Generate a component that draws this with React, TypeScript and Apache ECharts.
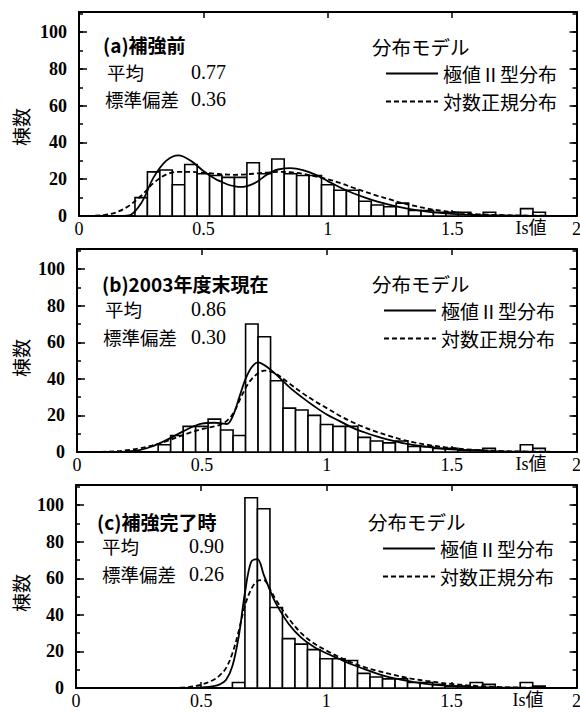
import React, { useEffect, useRef } from "react";
import * as echarts from "echarts";

// ---------------- data ----------------
const BIN_WIDTH = 0.05;
const binCenters = [
  0.25, 0.3, 0.35, 0.4, 0.45, 0.5, 0.55, 0.6, 0.65, 0.7, 0.75, 0.8, 0.85, 0.9, 0.95, 1.0, 1.05,
  1.1, 1.15, 1.2, 1.25, 1.3, 1.35, 1.4, 1.45, 1.5, 1.55, 1.6, 1.65, 1.7, 1.75, 1.8, 1.85,
];
const countsA = [10, 24, 25, 17, 28, 23, 22, 21, 21, 29, 23, 31, 23, 22, 22, 17, 14, 14, 8, 6, 5, 7, 3, 3, 2, 2, 2, 0, 2, 0, 0, 4, 2];
const countsB = [0, 0, 4, 9, 14, 14, 18, 12, 9, 70, 63, 39, 24, 23, 20, 15, 14, 14, 8, 6, 5, 6, 3, 3, 2, 2, 1, 1, 2, 0, 0, 4, 2];
const countsC = [0, 0, 0, 0, 0, 0, 0, 0, 3, 104, 98, 44, 27, 24, 21, 16, 16, 15, 8, 6, 5, 5, 3, 3, 2, 1, 1, 3, 2, 0, 0, 3, 1];

const curveX = [
  0, 0.05, 0.1, 0.15, 0.2, 0.25, 0.3, 0.35, 0.4, 0.45, 0.5, 0.55, 0.575, 0.6, 0.625, 0.65, 0.675,
  0.7, 0.725, 0.75, 0.775, 0.8, 0.85, 0.9, 0.95, 1.0, 1.05, 1.1, 1.15, 1.2, 1.25, 1.3, 1.35, 1.4,
  1.45, 1.5, 1.6, 1.7, 1.8, 1.9, 2.0,
];
// 極値Ⅱ型分布 (solid)
const extremeA = [0, 0, 0, 0, 0.3, 7, 21, 30, 33, 30, 24.5, 20, 18.5, 17, 16.2, 15.8, 16.3, 17.5, 19.5, 22, 24, 25.3, 26, 25, 22.5, 19, 15.5, 12.5, 10, 7.8, 6, 4.5, 3.3, 2.4, 1.7, 1.2, 0.6, 0.3, 0.15, 0.05, 0];
const extremeB = [0, 0, 0, 0, 0.2, 1, 3, 6, 9.5, 13, 15.5, 16, 15.8, 15.3, 20, 30, 40, 46.5, 49, 47.5, 45, 42, 35.5, 30, 25, 20.5, 17, 13.5, 10.8, 8.5, 6.6, 5, 3.7, 2.8, 2, 1.4, 0.7, 0.3, 0.15, 0.05, 0];
const extremeC = [0, 0, 0, 0, 0, 0, 0, 0, 0, 0, 0.3, 1, 2, 4.5, 12, 28, 52, 69, 70.5, 62, 53.5, 46, 35, 27.5, 22.5, 19, 16, 13, 10.5, 8, 6, 4.5, 3.2, 2.3, 1.6, 1.1, 0.5, 0.25, 0.1, 0.05, 0];
// 対数正規分布 (dashed)
const lognormA = [0, 0.1, 0.5, 2, 5.5, 11, 18, 22.5, 24, 24, 23.5, 23, 22.7, 22.5, 22.4, 22.5, 22.7, 23, 23.3, 23.6, 23.8, 24, 23.8, 23, 21.5, 20, 18, 15.5, 13.2, 11, 9, 7, 5.5, 4, 3, 2.2, 1, 0.5, 0.2, 0.1, 0];
const lognormB = [0, 0, 0.1, 0.3, 1, 2, 3.5, 5.5, 8, 10.5, 12.5, 14, 15, 17, 21, 28, 35, 40, 43, 44.5, 44, 42.5, 37.5, 32.5, 28, 24, 20, 16.5, 13.5, 11, 8.8, 6.8, 5.2, 4, 3, 2.2, 1.1, 0.5, 0.25, 0.1, 0];
const lognormC = [0, 0, 0, 0, 0, 0, 0, 0, 0.1, 0.5, 1.8, 4.5, 7, 11, 19, 31, 45, 54, 58.5, 59, 54, 48, 38, 30, 24.5, 20.5, 17, 14, 11.5, 9.5, 7.8, 6.2, 4.9, 3.9, 3, 2.2, 1.1, 0.5, 0.2, 0.1, 0];

const panelTitles = ["(a)補強前", "(b)2003年度末現在", "(c)補強完了時"];
const meanValues = ["0.77", "0.86", "0.90"];
const stdValues = ["0.36", "0.30", "0.26"];
const SERIES_EV = "極値Ⅱ型分布";
const SERIES_LN = "対数正規分布";
const MODEL_TITLE = "分布モデル";
const MEAN_LABEL = "平均";
const STD_LABEL = "標準偏差";
const X_NAME = "Is値";
const Y_NAME = "棟数";

const counts = [countsA, countsB, countsC];
const extremes = [extremeA, extremeB, extremeC];
const lognorms = [lognormA, lognormB, lognormC];

// ---------------- layout ----------------
const CJK = "Noto Sans CJK JP, Noto Sans, sans-serif";
const SERIF = "Liberation Serif, DejaVu Serif, serif";
const Y_MAX = 111;
const gridLayout = [
  { left: 79, top: 12, right: 1, height: 204 },
  { left: 77, top: 249, right: 3, height: 203 },
  { left: 76, top: 485, right: 0, height: 203 },
];
const textLayout = [
  { tx: 103, ty: 44, mx: 107, my: 71.5, vx: 191, sy: 99, sx: 105, modelX: 372, modelY: 46, legendLeft: 385, legendTop: 63.5, isX: 531, isY: 228, nameY: 127 },
  { tx: 102, ty: 283, mx: 105, my: 309, vx: 191, sy: 336.5, sx: 103, modelX: 372, modelY: 283, legendLeft: 383, legendTop: 300.5, isX: 531, isY: 464, nameY: 358 },
  { tx: 97, ty: 521, mx: 102, my: 546, vx: 189, sy: 573.5, sx: 102, modelX: 368, modelY: 521, legendLeft: 382, legendTop: 538.5, isX: 528, isY: 700, nameY: 593 },
];

function buildOption() {
  const grid: any[] = [];
  const xAxis: any[] = [];
  const yAxis: any[] = [];
  const series: any[] = [];
  const legend: any[] = [];
  const graphic: any[] = [];
  const line = { lineStyle: { color: "#000", width: 2 } };
  const tick = (len: number) => ({ show: true, inside: true, length: len, lineStyle: { color: "#000", width: 1.5 } });

  for (let i = 0; i < 3; i++) {
    grid.push({ ...gridLayout[i], containLabel: false });
    xAxis.push({
      gridIndex: i, type: "value", min: 0, max: 2, interval: 0.5, position: "bottom",
      axisLine: { show: true, onZero: false, ...line },
      axisTick: tick(6),
      axisLabel: { color: "#000", fontFamily: SERIF, fontSize: 18, margin: 4, formatter: (v: number) => String(v) },
      splitLine: { show: false },
    });
    xAxis.push({
      gridIndex: i, type: "value", min: 0, max: 2, interval: 0.5, position: "top",
      axisLine: { show: true, onZero: false, ...line },
      axisTick: tick(6), axisLabel: { show: false }, splitLine: { show: false },
    });
    yAxis.push({
      gridIndex: i, type: "value", min: 0, max: Y_MAX, interval: 20, position: "left",
      axisLine: { show: true, onZero: false, ...line },
      axisTick: tick(8),
      axisLabel: {
        color: "#000", fontFamily: SERIF, fontWeight: "bold", fontSize: 18, margin: 12,
        formatter: (v: number) => (v % 20 === 0 && v <= 100 ? String(v) : ""),
      },
      splitLine: { show: false },
    });
    yAxis.push({
      gridIndex: i, type: "value", min: 0, max: Y_MAX, interval: 10, position: "left",
      axisLine: { show: false, onZero: false }, axisTick: tick(4), axisLabel: { show: false }, splitLine: { show: false },
    });
    yAxis.push({
      gridIndex: i, type: "value", min: 0, max: Y_MAX, interval: 20, position: "right",
      axisLine: { show: true, onZero: false, ...line }, axisTick: tick(7), axisLabel: { show: false }, splitLine: { show: false },
    });
    yAxis.push({
      gridIndex: i, type: "value", min: 0, max: Y_MAX, interval: 10, position: "right",
      axisLine: { show: false, onZero: false }, axisTick: tick(4), axisLabel: { show: false }, splitLine: { show: false },
    });

    const xi = i * 2;
    const yi = i * 4;
    series.push({
      type: "custom",
      name: "histogram" + i,
      xAxisIndex: xi, yAxisIndex: yi,
      encode: { x: 0, y: 1 },
      data: binCenters.map((c, k) => [c, counts[i][k]]).filter((d) => d[1] > 0),
      renderItem: (params: any, api: any) => {
        const c = api.value(0);
        const v = api.value(1);
        const p0 = api.coord([c - BIN_WIDTH / 2, v]);
        const p1 = api.coord([c + BIN_WIDTH / 2, 0]);
        return {
          type: "rect",
          shape: { x: p0[0], y: p0[1], width: p1[0] - p0[0], height: p1[1] - p0[1] },
          style: { fill: "#fff", stroke: "#000", lineWidth: 1.6 },
        };
      },
      z: 2,
    });
    series.push({
      type: "line", name: SERIES_EV, xAxisIndex: xi, yAxisIndex: yi,
      data: curveX.map((x, k) => [x, extremes[i][k]]),
      smooth: 0.35, symbol: "none", color: "#000",
      lineStyle: { color: "#000", width: 1.8, type: "solid" },
      z: 4,
    });
    series.push({
      type: "line", name: SERIES_LN, xAxisIndex: xi, yAxisIndex: yi,
      data: curveX.map((x, k) => [x, lognorms[i][k]]),
      smooth: 0.35, symbol: "none", color: "#000",
      lineStyle: { color: "#000", width: 1.8, type: [5, 3] },
      z: 4,
    });

    const t = textLayout[i];
    legend.push({
      data: [SERIES_EV, SERIES_LN], orient: "vertical", left: t.legendLeft, top: t.legendTop,
      itemWidth: 52, itemHeight: 12, itemGap: 8, selectedMode: false, padding: 0,
      itemStyle: { opacity: 0 },
      textStyle: { color: "#000", fontFamily: CJK, fontSize: 19, lineHeight: 20 },
    });
    const txt = (x: number, y: number, text: string, extra: any = {}) => ({
      type: "text", x, y,
      style: { text, fill: "#000", fontFamily: CJK, fontSize: 18.5, lineHeight: 20, align: "left", verticalAlign: "middle", ...extra },
    });
    graphic.push(txt(t.tx, t.ty, panelTitles[i], { fontWeight: "bold", fontSize: 19 }));
    graphic.push(txt(t.mx, t.my, MEAN_LABEL));
    graphic.push(txt(t.vx, t.my, meanValues[i], { fontFamily: SERIF, fontSize: 20 }));
    graphic.push(txt(t.sx, t.sy, STD_LABEL));
    graphic.push(txt(t.vx, t.sy, stdValues[i], { fontFamily: SERIF, fontSize: 20 }));
    graphic.push(txt(t.modelX, t.modelY, MODEL_TITLE, { fontSize: 19.5 }));
    graphic.push({
      type: "text", x: t.isX, y: t.isY,
      style: { text: X_NAME, fill: "#000", fontFamily: "Liberation Serif, Noto Sans CJK JP, serif", fontSize: 18, lineHeight: 20, align: "center", verticalAlign: "middle" },
    });
    graphic.push({
      type: "text", x: 20, y: t.nameY, rotation: Math.PI / 2,
      style: { text: Y_NAME, fill: "#000", fontFamily: CJK, fontSize: 19, lineHeight: 20, align: "center", verticalAlign: "middle" },
    });
  }

  return { animation: false, backgroundColor: "#fff", grid, xAxis, yAxis, series, legend, graphic };
}

export default function App() {
  const ref = useRef<HTMLDivElement>(null);
  useEffect(() => {
    if (!ref.current) return;
    const chart = echarts.init(ref.current, undefined, { renderer: "svg" });
    chart.setOption(buildOption() as any);
    return () => chart.dispose();
  }, []);
  return (
    <div style={{ position: "fixed", left: 0, top: 0, width: 580, height: 714, overflow: "hidden", background: "#fff" }}>
      <div ref={ref} style={{ width: 584, height: 714 }} />
    </div>
  );
}
